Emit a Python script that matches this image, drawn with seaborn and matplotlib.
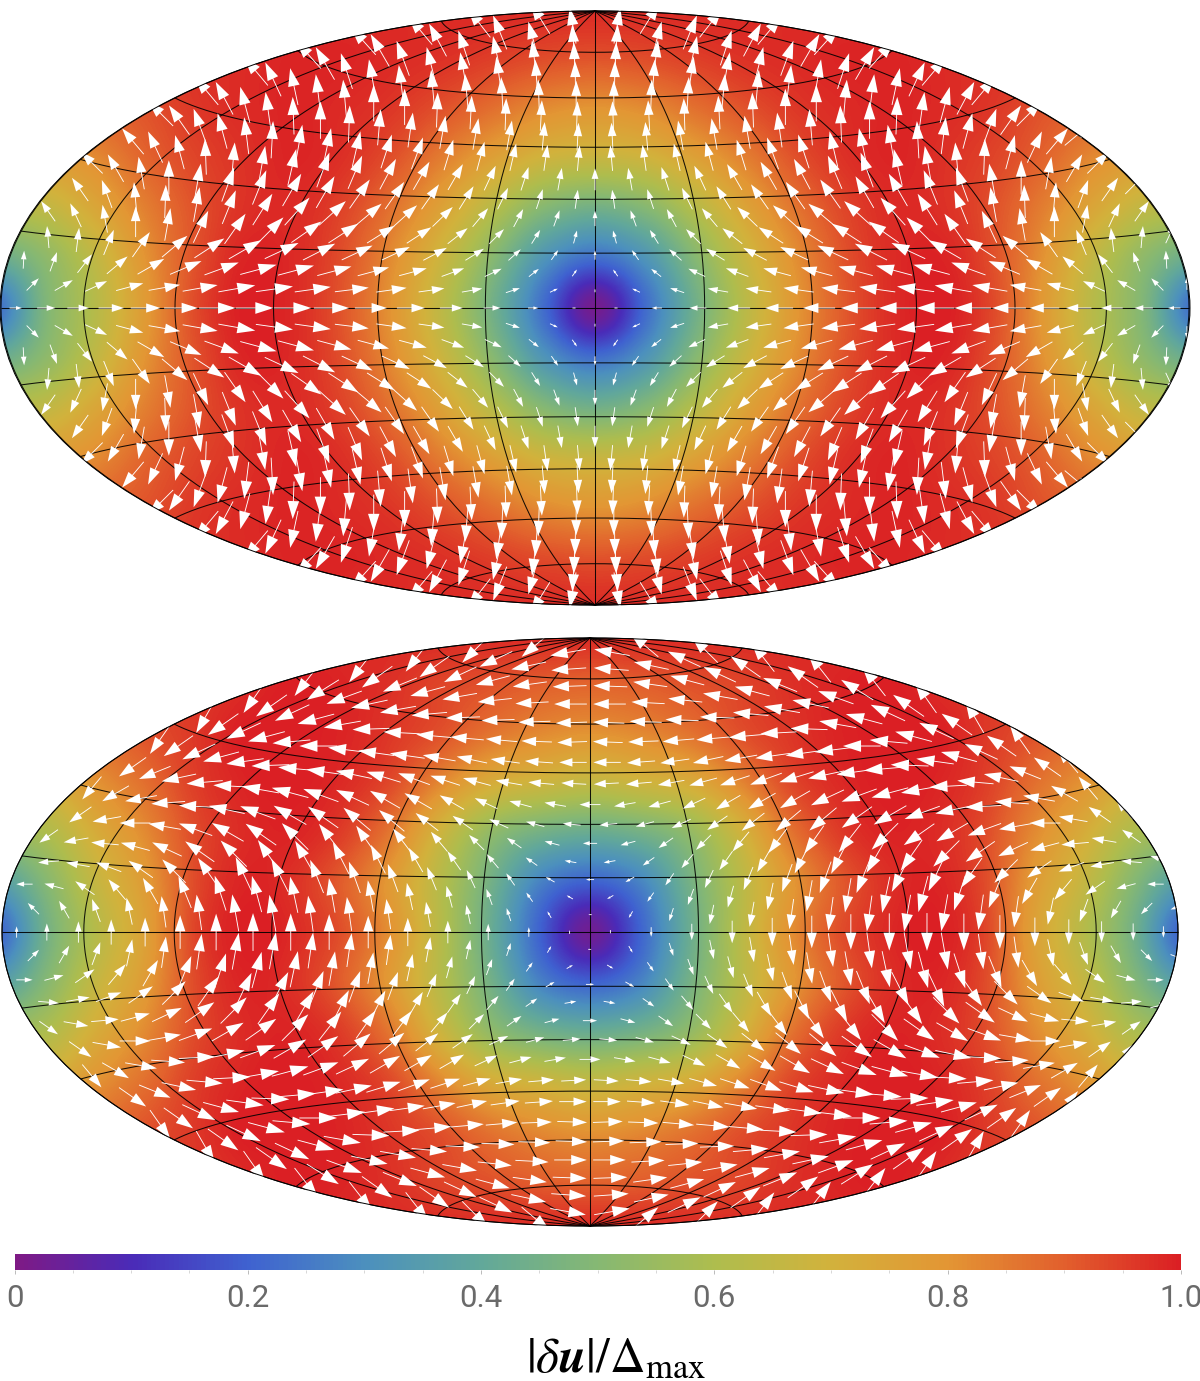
import numpy as np
import matplotlib
matplotlib.use("Agg")
import matplotlib.pyplot as plt
from matplotlib.patches import Ellipse
import seaborn as sns

# ---------- colour scale stops (0, 0.1, ... 1.0) ----------
scale_colors = ["#7E1A85", "#4A2BB8", "#3F62D0", "#4C90BE", "#62A89A", "#86B873",
                "#AEBD4E", "#D2B23C", "#E39634", "#E2602D", "#DB1F24"]
tick_values = [0, 0.2, 0.4, 0.6, 0.8, 1.0]
tick_labels = ["0", "0.2", "0.4", "0.6", "0.8", "1.0"]
minor_values = [0.05, 0.1, 0.15, 0.25, 0.3, 0.35, 0.45, 0.5, 0.55, 0.65, 0.7, 0.75, 0.85, 0.9, 0.95]

# ---------- |du| read on a map grid (one quarter of each symmetric map) ----------
grid_x = [0, 50, 100, 150, 200, 250, 300, 350, 400, 450, 500, 550, 600]
grid_y = [0, 50, 100, 150, 200, 250, 300]
top_mag = [
    [.02, .22, .44, .63, .79, .91, .98, 1.0, .93, .78, .62, .48, .22],
    [.23, .32, .50, .67, .81, .92, .98, .99, .92, .80, .65, .52, .42],
    [.45, .50, .62, .75, .86, .94, .98, .97, .92, .84, .74, .65, .62],
    [.67, .69, .76, .84, .92, .97, .99, .97, .94, .89, .82, .78, .78],
    [.80, .82, .87, .92, .96, .98, .99, .98, .96, .92, .90, .90, .90],
    [.92, .93, .95, .97, .98, .99, .99, .98, .97, .96, .96, .96, .96],
    [.98, .98, .98, .98, .98, .98, .98, .98, .98, .98, .98, .98, .98],
]
low_mag = [
    [.03, .20, .42, .62, .80, .92, .98, 1.0, .94, .76, .62, .45, .20],
    [.20, .27, .45, .62, .78, .90, .97, .99, .93, .78, .66, .50, .35],
    [.42, .45, .53, .68, .85, .95, .99, .98, .93, .82, .72, .60, .55],
    [.65, .68, .72, .82, .93, .98, 1.0, .99, .95, .87, .80, .72, .72],
    [.80, .82, .86, .92, .96, .99, 1.0, 1.0, .96, .92, .88, .88, .88],
    [.89, .90, .92, .94, .97, .99, 1.0, .98, .96, .95, .95, .95, .95],
    [.98, .98, .98, .98, .98, .98, .98, .98, .98, .98, .98, .98, .98],
]

# ---------- arrow direction (degrees) per sampling ring, pole to equator, east half ----------
top_angle = [
    [80, 58],
    [86, 75, 68, 52],
    [88, 83, 78, 72, 62, 50],
    [89, 86, 82, 80, 76, 70, 60, 48],
    [90, 88, 87, 85, 85, 83, 80, 72, 60, 48],
    [92, 93, 92, 93, 92, 90, 90, 85, 83, 78, 65, 50],
    [93, 95, 100, 100, 100, 98, 95, 92, 90, 88, 82, 75, 62, 50],
    [95, 98, 103, 105, 107, 110, 108, 103, 102, 100, 93, 83, 75, 70, 55, 45],
    [90, 100, 108, 115, 120, 120, 118, 113, 110, 103, 100, 95, 88, 75, 65, 50, 40],
    [98, 108, 116, 122, 125, 125, 125, 120, 120, 112, 110, 100, 90, 80, 60, 45],
    [90, 110, 118, 130, 136, 138, 140, 138, 132, 122, 112, 100, 92, 85, 70, 55, 45],
    [105, 122, 135, 142, 147, 148, 147, 145, 135, 125, 115, 100, 90, 80, 65, 55],
    [90, 125, 138, 148, 152, 155, 155, 153, 155, 150, 147, 140, 125, 112, 97, 85, 65],
    [125, 142, 155, 160, 165, 165, 165, 165, 165, 160, 157, 150, 140, 128, 110, 93],
    [90, 155, 162, 170, 172, 172, 173, 172, 172, 170, 170, 170, 165, 155, 150, 135, 90],
    [180, 180, 180, 180, 180, 180, 180, 180, 180, 180, 180, 180, 180, 180, 180, 180],
]
low_angle = [
    [170, 140],
    [176, 168, 155, 135],
    [178, 172, 165, 155, 145, 128],
    [180, 177, 174, 170, 165, 158, 145, 128],
    [178, 178, 178, 178, 175, 170, 168, 160, 148, 128],
    [178, 182, 185, 185, 185, 183, 178, 170, 165, 155, 145, 125],
    [180, 184, 188, 192, 190, 188, 188, 187, 180, 175, 165, 155, 145, 120],
    [183, 185, 190, 195, 198, 200, 197, 192, 188, 185, 178, 172, 165, 155, 145, 125],
    [180, 190, 195, 205, 210, 210, 210, 205, 200, 195, 190, 183, 175, 168, 158, 145, 130],
    [185, 195, 205, 215, 218, 220, 220, 215, 210, 200, 192, 183, 176, 170, 150, 130],
    [180, 195, 215, 225, 230, 233, 235, 232, 225, 215, 210, 200, 190, 180, 170, 145, 130],
    [190, 215, 230, 235, 240, 243, 243, 240, 235, 225, 215, 205, 195, 185, 170, 145],
    [180, 210, 235, 245, 248, 250, 250, 248, 243, 245, 235, 225, 215, 200, 190, 175, 165],
    [210, 235, 250, 255, 258, 260, 260, 258, 255, 252, 248, 240, 230, 215, 195, 180],
    [180, 240, 252, 258, 260, 262, 262, 262, 260, 260, 262, 262, 258, 250, 240, 225, 200],
    [270, 270, 270, 270, 270, 270, 270, 270, 270, 270, 270, 270, 270, 270, 270, 270],
]

# ---------- graticule spacing ----------
meridians = [-150, -120, -90, -60, -30, 0, 30, 60, 90, 120, 150]
parallels = [-75, -60, -45, -30, -15, 0, 15, 30, 45, 60, 75]

sns.set_theme(style="white")
plt.rcParams["font.family"] = ["Roboto", "DejaVu Sans"]
plt.rcParams["mathtext.fontset"] = "stix"

cmap = sns.blend_palette(scale_colors, n_colors=256, as_cmap=True)

fig = plt.figure(figsize=(12, 13.81), dpi=100)
ax = fig.add_axes([0, 0, 1, 1])


def hammer(lat, lon):
    p, l = np.radians(lat), np.radians(lon)
    d = np.sqrt(1 + np.cos(p) * np.cos(l / 2))
    return 2 * np.sqrt(2) * np.cos(p) * np.sin(l / 2) / d, np.sqrt(2) * np.sin(p) / d


def ring_geometry(i, nside=8):
    if i < nside:
        z = 1 - i * i / (3 * nside * nside)
        lons = [(j + 0.5) * 90 / i for j in range(2 * i)]
    else:
        z = 4 / 3 - 2 * i / (3 * nside)
        if (i - nside + 1) % 2:
            lons = [(j + 0.5) * 90 / nside for j in range(2 * nside)]
        else:
            lons = [j * 90 / nside for j in range(2 * nside + 1)]
    return np.degrees(np.arcsin(z)), lons


def lookup(table, px, py):
    gx, gy = np.array(grid_x, float), np.array(grid_y, float)
    i = min(int(np.searchsorted(gx, px, side="right")) - 1, len(gx) - 2)
    j = min(int(np.searchsorted(gy, py, side="right")) - 1, len(gy) - 2)
    tx, ty = (px - gx[i]) / (gx[i + 1] - gx[i]), (py - gy[j]) / (gy[j + 1] - gy[j])
    t = np.asarray(table)
    return ((1 - tx) * (1 - ty) * t[j, i] + tx * (1 - ty) * t[j, i + 1]
            + (1 - tx) * ty * t[j + 1, i] + tx * ty * t[j + 1, i + 1])


def panel(cx, cy, half_w, half_h, mag, angles, swap_mirror):
    scale = half_h / np.sqrt(2)
    t = np.asarray(mag)
    full = np.hstack([t[:, :0:-1], t])
    full = np.vstack([full[:0:-1], full])
    sx_ratio = half_w / 595
    sy_ratio = half_h / 297
    dx = 25 * sx_ratio
    dy = 25 * sy_ratio
    im = ax.imshow(full, cmap=cmap, vmin=0, vmax=1, origin="lower", interpolation="catrom",
                   extent=(cx - 600 * sx_ratio - dx, cx + 600 * sx_ratio + dx,
                           cy + 300 * sy_ratio + dy, cy - 300 * sy_ratio - dy),
                   aspect="auto", zorder=1)
    boundary = Ellipse((cx, cy), 2 * half_w, 2 * half_h, fc="none", ec="none",
                       transform=ax.transData)
    ax.add_patch(boundary)
    im.set_clip_path(boundary)

    line = dict(color="black", lw=0.75, alpha=0.9, zorder=2, solid_capstyle="butt")
    lat_run = np.linspace(-90, 90, 241)
    for lon in meridians:
        x, y = hammer(lat_run, lon)
        ax.plot(cx + scale * x, cy - scale * y, **line)
    lon_run = np.linspace(-180, 180, 361)
    for lat in parallels:
        x, y = hammer(lat, lon_run)
        ax.plot(cx + scale * x, cy - scale * y, **line)
    x, y = hammer(lat_run, 180.0)
    ax.plot(cx + scale * x, cy - scale * y, **line)
    ax.plot(cx - scale * x, cy - scale * y, **line)

    for ring, row in enumerate(angles, start=1):
        lat, lons = ring_geometry(ring)
        for lon, a in zip(lons, row):
            x, y = hammer(lat, lon)
            px, py = scale * x, scale * y
            length = 38 * float(lookup(mag, px / sx_ratio, py / sy_ratio))
            for sx in (1, -1):
                if sx == -1 and lon in (0.0, 180.0):
                    continue
                for sy in (1, -1):
                    if sy == -1 and ring == 16:
                        continue
                    b = a
                    if swap_mirror:
                        if sx == -1:
                            b = -b
                        if sy == -1:
                            b = 180 - b
                    else:
                        if sx == -1:
                            b = 180 - b
                        if sy == -1:
                            b = -b
                    ux, uy = np.cos(np.radians(b)), -np.sin(np.radians(b))
                    x0 = cx + sx * px - ux * length / 2
                    y0 = cy - sy * py - uy * length / 2
                    ax.arrow(x0, y0, ux * length, uy * length, width=0.9,
                             head_width=0.31 * length, head_length=0.48 * length,
                             length_includes_head=True, fc="white", ec="none", lw=0, zorder=3)

    ax.add_patch(Ellipse((cx, cy), 2 * half_w, 2 * half_h, fc="none", ec="black", lw=0.7, zorder=4))


panel(595, 308, 595, 297, top_mag, top_angle, False)
panel(590, 932, 588, 294, low_mag, low_angle, True)

ax.set_xlim(0, 1200)
ax.set_ylim(1381, 0)
ax.axis("off")

# ---------- colour bar drawn as a one-row seaborn heatmap ----------
cax = fig.add_axes([14.5 / 1200, 1 - 1270 / 1381, (1181 - 14.5) / 1200, 16 / 1381])
strip = np.linspace(0, 1, 512)[None, :]
sns.heatmap(strip, ax=cax, cmap=cmap, vmin=0, vmax=1, cbar=False,
            xticklabels=False, yticklabels=False)
cax.set_xticks([v * 512 for v in tick_values])
cax.set_xticklabels(tick_labels, fontsize=22.5, color="#6a6a6a", fontweight="normal")
cax.set_xticks([v * 512 for v in minor_values], minor=True)
cax.tick_params(axis="x", which="major", length=3, width=0.6, color="#b0b0b0", pad=7, bottom=True)
cax.tick_params(axis="x", which="minor", length=2, width=0.5, color="#c8c8c8", bottom=True)
cax.set_yticks([])

fig.text(616 / 1200, 1 - 1358 / 1381, r"$|\delta\boldsymbol{u}|/\Delta_{\mathrm{max}}$",
         fontsize=35.5, ha="center", va="center", color="black")

fig.savefig("out.png", dpi=100)
